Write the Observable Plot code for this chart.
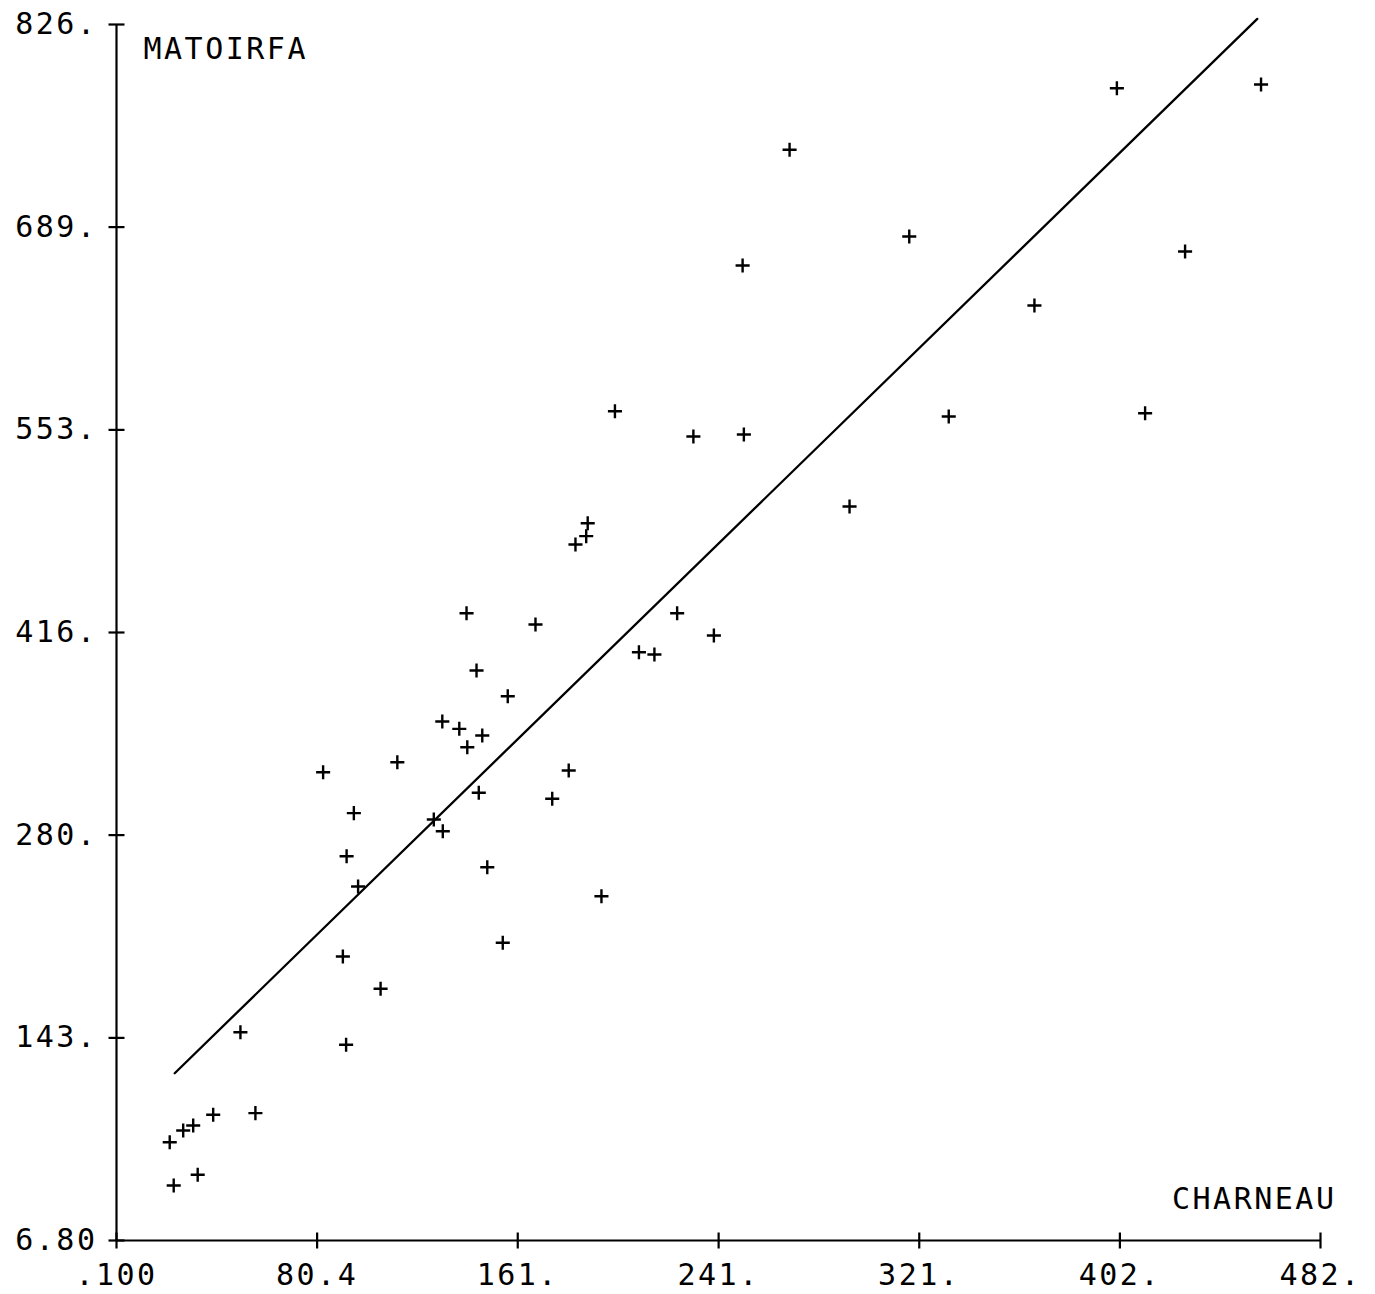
<!DOCTYPE html>
<html>
<head>
<meta charset="utf-8">
<script src="https://cdn.jsdelivr.net/npm/d3@7"></script>
<script src="https://cdn.jsdelivr.net/npm/@observablehq/plot@0.6"></script>
<style>
  html, body { margin: 0; padding: 0; background: #fff; }
  #chart svg text { letter-spacing: 2.5px; }
</style>
</head>
<body>
<div id="chart"></div>
<script>
// Axis titles
const xTitle = "CHARNEAU";
const yTitle = "MATOIRFA";

// Tick values and their printed labels
const xTicks = [0.1, 80.4, 160.7, 241.1, 321.4, 401.7, 482];
const xTickLabels = [".100", "80.4", "161.", "241.", "321.", "402.", "482."];
const yTicks = [6.8, 143.3, 279.9, 416.4, 552.9, 689.5, 826];
const yTickLabels = ["6.80", "143.", "280.", "416.", "553.", "689.", "826."];

// Observations (CHARNEAU, MATOIRFA)
const charneau = [
  400.5, 458.2, 269.5, 317.4, 427.8, 250.7, 367.5, 199.6, 333.2, 411.8,
  231.0, 251.2, 293.5, 188.7, 188.1, 183.8, 140.2, 224.5, 167.8, 239.2,
  209.2, 215.4, 144.2, 156.7, 130.5, 137.3, 146.5, 140.5, 112.5, 82.8,
  181.1, 145.1, 174.5, 95.1, 127.1, 130.7, 92.2, 148.5, 96.8, 194.2,
  154.7, 90.7, 105.8, 49.7, 92.0, 38.8, 55.7, 30.8, 26.8, 21.4,
  32.6, 23.0
];
const matoirfa = [
  783.1, 785.6, 741.6, 683.2, 673.1, 663.6, 636.7, 565.5, 561.9, 564.1,
  548.4, 549.8, 501.3, 490.0, 481.3, 475.7, 429.4, 429.4, 421.8, 414.4,
  403.1, 401.6, 390.8, 373.5, 356.4, 351.5, 347.0, 339.1, 329.0, 322.3,
  323.4, 308.4, 304.4, 294.7, 290.4, 282.5, 265.7, 258.3, 245.3, 238.7,
  207.4, 198.1, 176.4, 147.1, 138.7, 91.5, 92.6, 84.3, 80.9, 73.0,
  51.1, 43.9
];

// Fitted regression line end points
const fitX = [23.4, 456.7];
const fitY = [119.5, 829.8];

const points = charneau.map((x, i) => ({x, y: matoirfa[i]}));
const fit = fitX.map((x, i) => ({x, y: fitY[i]}));

const xFmt = d => xTickLabels[xTicks.indexOf(d)];
const yFmt = d => yTickLabels[yTicks.indexOf(d)];

// Tick marks that cross the axis line on both sides
const tickH = {draw(ctx, size) { const r = Math.sqrt(size / Math.PI); ctx.moveTo(-r, 0); ctx.lineTo(r, 0); }};
const tickV = {draw(ctx, size) { const r = Math.sqrt(size / Math.PI); ctx.moveTo(0, -r); ctx.lineTo(0, r); }};

const x0 = xTicks[0], y0 = yTicks[0];

const chart = Plot.plot({
  width: 1375,
  height: 1294,
  marginLeft: 116,
  marginRight: 55,
  marginTop: 24,
  marginBottom: 54,
  x: {domain: [xTicks[0], xTicks[xTicks.length - 1]]},
  y: {domain: [yTicks[0], yTicks[yTicks.length - 1]]},
  style: {
    fontFamily: "'DejaVu Sans Mono', monospace",
    fontSize: "30px",
    background: "#fff",
    color: "#000"
  },
  marks: [
    Plot.ruleX([x0], {stroke: "#000", strokeWidth: 2.2}),
    Plot.ruleY([y0], {stroke: "#000", strokeWidth: 2.2}),
    Plot.dot(xTicks, {x: d => d, y: () => y0, symbol: tickV, r: 8, stroke: "#000", fill: "none", strokeWidth: 2.2}),
    Plot.dot(yTicks, {x: () => x0, y: d => d, symbol: tickH, r: 8, stroke: "#000", fill: "none", strokeWidth: 2.2}),
    Plot.axisX({ticks: xTicks, tickFormat: xFmt, tickSize: 0, tickPadding: 23, label: null}),
    Plot.axisY({ticks: yTicks, tickFormat: yFmt, tickSize: 0, tickPadding: 19, label: null}),
    Plot.line(fit, {x: "x", y: "y", stroke: "#000", strokeWidth: 2.3}),
    Plot.dot(points, {x: "x", y: "y", symbol: "plus", r: 4.6, stroke: "#000", strokeWidth: 2.4}),
    Plot.text([yTitle], {text: d => d, frameAnchor: "top-left", textAnchor: "start", lineAnchor: "middle", dx: 27, dy: 25, fill: "#000"}),
    Plot.text([xTitle], {text: d => d, frameAnchor: "bottom-right", textAnchor: "end", lineAnchor: "middle", dx: 16, dy: -41, fill: "#000"})
  ]
});
document.getElementById("chart").appendChild(chart);
</script>
</body>
</html>
